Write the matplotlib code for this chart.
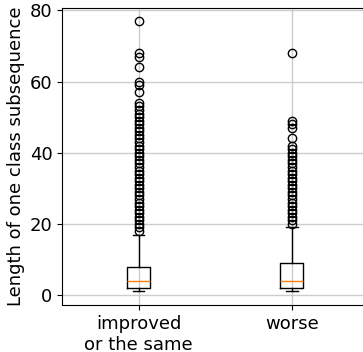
import matplotlib
matplotlib.use("Agg")
import matplotlib.pyplot as plt

# box statistics
labels = ["improved\nor the same", "worse"]
q1 = [2, 2]
med = [4, 4]
q3 = [8, 9]
whislo = [1, 1]
whishi = [17, 19]

# outliers
fliers_improved = list(range(18, 50)) + [50, 51, 52, 53, 54, 57, 59, 60, 64, 67, 68, 77]
fliers_worse = list(range(20, 43)) + [44, 47, 48, 49, 68]

stats = []
for i in range(len(labels)):
    stats.append({
        "label": labels[i],
        "q1": q1[i], "med": med[i], "q3": q3[i],
        "whislo": whislo[i], "whishi": whishi[i],
        "fliers": [fliers_improved, fliers_worse][i],
    })

fig = plt.figure(figsize=(3.63, 3.52), dpi=100)
ax = fig.add_axes([0.171, 0.1335, 0.844, 0.845])

ax.bxp(stats, positions=[1, 2], widths=0.15, showfliers=True,
       flierprops=dict(marker="o", markerfacecolor="none",
                       markeredgecolor="black", markersize=6),
       medianprops=dict(color="C1"))

ax.set_xlim(0.5, 2.5)
ax.set_ylim(-2.8, 80.8)
ax.set_yticks([0, 20, 40, 60, 80])
ax.grid(True, color="#cccccc", linewidth=1)
ax.set_axisbelow(True)
ax.set_ylabel("Length of one class subsequence", fontsize=13, labelpad=3)
ax.tick_params(labelsize=13)

fig.savefig("out.png", dpi=100)
